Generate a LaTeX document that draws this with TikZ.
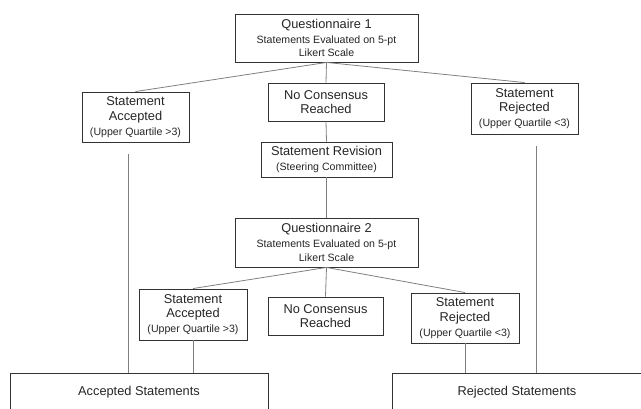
\documentclass[tikz,border=0pt]{standalone}
\usepackage{fontspec}
\setmainfont{Liberation Sans}
\begin{document}
\begin{tikzpicture}[x=1pt,y=-1pt,
  box/.style={draw=black!80,line width=0.9pt,fill=white,inner sep=0pt,align=center,text=black!85,font=\fontsize{12.8}{14.8}\selectfont},
  link/.style={draw=black!50,line width=0.8pt}]
\newcommand{\smalltxt}[1]{{\fontsize{10.6}{13}\selectfont #1}}
\useasboundingbox (0,0) rectangle (641,409);
\begin{scope}
\clip (0,0) rectangle (641,409);
\node[box,minimum width=183pt,minimum height=48pt] (q1) at (326.5,38) {Questionnaire 1\\\smalltxt{Statements Evaluated on 5-pt}\\[-1pt]\smalltxt{Likert Scale}};
\node[box,minimum width=107pt,minimum height=50pt] (acc1) at (135.5,117) {Statement\\Accepted\\\smalltxt{(Upper Quartile >3)}};
\node[box,minimum width=116pt,minimum height=38pt] (nc1) at (326,102) {No Consensus\\Reached};
\node[box,minimum width=107pt,minimum height=51pt] (rej1) at (524.5,108.5) {Statement\\Rejected\\\smalltxt{(Upper Quartile <3)}};
\node[box,minimum width=131pt,minimum height=35pt] (rev) at (326.5,159.5) {Statement Revision\\\smalltxt{(Steering Committee)}};
\node[box,minimum width=183pt,minimum height=49pt] (q2) at (326.5,242.5) {Questionnaire 2\\\smalltxt{Statements Evaluated on 5-pt}\\[-1pt]\smalltxt{Likert Scale}};
\node[box,minimum width=108pt,minimum height=51pt] (acc2) at (193,314.5) {Statement\\Accepted\\\smalltxt{(Upper Quartile >3)}};
\node[box,minimum width=115pt,minimum height=38pt] (nc2) at (325.5,316) {No Consensus\\Reached};
\node[box,minimum width=108pt,minimum height=50pt] (rej2) at (465,318) {Statement\\Rejected\\\smalltxt{(Upper Quartile <3)}};
\node[box,minimum width=258pt,minimum height=38pt] (accs) at (139,392) {Accepted Statements};
\node[box,minimum width=250pt,minimum height=38pt] (rejs) at (517,392) {Rejected Statements};
\coordinate (la) at (128,154);
\coordinate (ra) at (536,146);
\draw[link] (q1.south) -- (acc1.north);
\draw[link] (q1.south) -- (rej1.north);
\draw[link] (q1.south) -- (nc1.north);
\draw[link] (nc1.south) -- (rev.north);
\draw[link] (rev.south) -- (q2.north);
\draw[link] (q2.south) -- (acc2.north);
\draw[link] (q2.south) -- (rej2.north);
\draw[link] (q2.south) -- (nc2.north);
\draw[link] (la) -- (la |- accs.north);
\draw[link] (ra) -- (ra |- rejs.north);
\draw[link] (acc2.south) -- (accs.north -| acc2.south);
\draw[link] (rej2.south) -- (rejs.north -| rej2.south);
\end{scope}
\end{tikzpicture}
\end{document}
